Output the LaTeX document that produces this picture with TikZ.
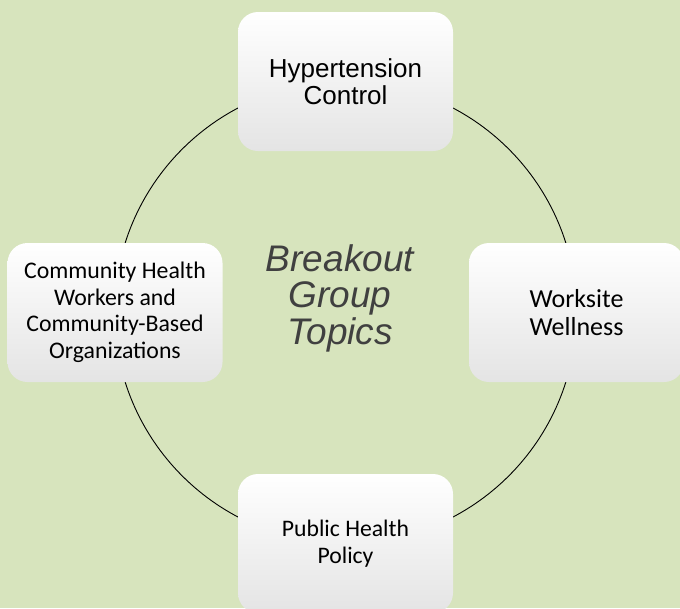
\documentclass[tikz,border=0pt]{standalone}
\usepackage{fontspec}
\setmainfont{Liberation Sans}
\newfontfamily\carl{Carlito}
\definecolor{bgc}{RGB}{215,228,189}
\definecolor{boxbot}{RGB}{228,228,228}
\definecolor{midtext}{RGB}{64,64,64}
\tikzset{
  topic/.style={shade, top color=white, middle color=white, bottom color=boxbot,
    rounded corners=20pt, minimum width=215pt, minimum height=139pt, inner sep=0pt,
    align=center, text=black},
}
\begin{document}
\begin{tikzpicture}[x=1pt,y=-1pt]
\useasboundingbox (0,0) rectangle (680,608);
\fill[bgc] (0,0) rectangle (680,608);
\coordinate (c) at (345.5,312.5);
\draw[black, line width=0.9pt] (c) circle[radius=231];
\node[topic, font=\fontsize{26}{27}\selectfont] (t) at (345.5,81.5) {Hypertension\\Control};
\node[topic, font=\carl\fontsize{23.8}{26.5}\selectfont] (l) at (115,312.5) {Community Health\\Workers and\\Community-Based\\Organizations};
\node[topic, font=\carl\fontsize{26}{28}\selectfont] (r) at (576.5,312.5) {Worksite\\Wellness};
\node[topic, font=\carl\fontsize{23.7}{27}\selectfont] (b) at (345.5,543.5) {Public Health\\Policy};
\node[align=center, text=midtext, font=\fontsize{37}{36.5}\selectfont\itshape] (m) at (340,298) {Breakout\\Group\\Topics};
\end{tikzpicture}
\end{document}
